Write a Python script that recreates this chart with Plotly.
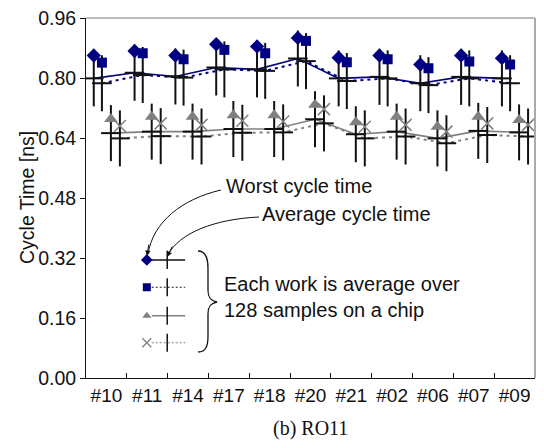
import plotly.graph_objects as go

chips = ["#10", "#11", "#14", "#17", "#18", "#20", "#21", "#02", "#06", "#07", "#09"]

# Worst cycle time [ns]
s1_worst = [0.860, 0.872, 0.860, 0.890, 0.884, 0.907, 0.854, 0.860, 0.836, 0.860, 0.853]
s2_worst = [0.841, 0.866, 0.850, 0.875, 0.866, 0.899, 0.842, 0.850, 0.826, 0.844, 0.836]
s3_worst = [0.691, 0.697, 0.697, 0.701, 0.701, 0.729, 0.682, 0.697, 0.670, 0.697, 0.688]
s4_worst = [0.672, 0.679, 0.675, 0.686, 0.684, 0.717, 0.670, 0.675, 0.657, 0.679, 0.675]

# Average cycle time [ns]
s1_avg = [0.799, 0.814, 0.804, 0.828, 0.823, 0.852, 0.799, 0.803, 0.786, 0.803, 0.799]
s2_avg = [0.786, 0.808, 0.801, 0.823, 0.819, 0.845, 0.792, 0.799, 0.781, 0.799, 0.786]
s3_avg = [0.653, 0.657, 0.657, 0.664, 0.664, 0.690, 0.650, 0.657, 0.639, 0.659, 0.655]
s4_avg = [0.639, 0.645, 0.644, 0.654, 0.655, 0.679, 0.639, 0.644, 0.626, 0.648, 0.644]

y_ticks = [0.00, 0.16, 0.32, 0.48, 0.64, 0.80, 0.96]

NAVY = "#000080"
GRAY = "#808080"
FONT = "Arial, Liberation Sans, sans-serif"

# page body margin of the browser (8px) is compensated
OFF = 8
W, H = 544 - 2 * OFF, 448 - 2 * OFF
# plot area in target-page pixels
L, R, T, B = 86, 535, 18, 378


def pp(px, py):
    return (px - L) / (R - L), (B - py) / (B - T)


series = [
    dict(worst=s1_worst, avg=s1_avg, off=-0.31, color=NAVY, dash="solid", sym="diamond", msize=11),
    dict(worst=s2_worst, avg=s2_avg, off=-0.11, color=NAVY, dash="3px,4px", sym="square", msize=10),
    dict(worst=s3_worst, avg=s3_avg, off=0.11, color=GRAY, dash="solid", sym="triangle-up", msize=12),
    dict(worst=s4_worst, avg=s4_avg, off=0.33, color=GRAY, dash="3px,4px", sym="x-thin", msize=12),
]

fig = go.Figure()
idx = list(range(len(chips)))

# lines of averages
for s in series:
    xs = [i + s["off"] for i in idx]
    fig.add_trace(go.Scatter(x=xs, y=s["avg"], mode="lines",
                             line=dict(color=s["color"], width=1.6 if s["dash"] == "solid" else 2, dash=s["dash"]),
                             showlegend=False, hoverinfo="skip"))
# average cross markers
for s in series:
    xs = [i + s["off"] for i in idx]
    fig.add_trace(go.Scatter(x=xs, y=s["avg"], mode="markers",
                             marker=dict(symbol="line-ns", size=40, line=dict(color="#111", width=2)),
                             showlegend=False, hoverinfo="skip"))
    fig.add_trace(go.Scatter(x=xs, y=s["avg"], mode="markers",
                             marker=dict(symbol="line-ew", size=14, line=dict(color="#111", width=2)),
                             showlegend=False, hoverinfo="skip"))
# worst markers
for s in series:
    xs = [i + s["off"] for i in idx]
    if s["sym"] == "x-thin":
        mk = dict(symbol="x-thin", size=s["msize"], line=dict(color=s["color"], width=1.5))
    else:
        mk = dict(symbol=s["sym"], size=s["msize"], color=s["color"], line=dict(width=0))
    fig.add_trace(go.Scatter(x=xs, y=s["worst"], mode="markers", marker=mk,
                             showlegend=False, hoverinfo="skip"))

# in-plot key
key_rows_y = [0.315, 0.242, 0.166, 0.094]
key_x0, key_xc, key_x1 = 0.99, 1.49, 1.93
key_line_colors = ["#111", "#222", GRAY, GRAY]
for s, ky, lc in zip(series, key_rows_y, key_line_colors):
    solid = s["dash"] == "solid"
    fig.add_trace(go.Scatter(x=[key_x0 + 0.12, key_x1], y=[ky, ky], mode="lines",
                             line=dict(color=lc, width=1.5 if solid else 1.2,
                                       dash="solid" if solid else "2px,2px"),
                             showlegend=False, hoverinfo="skip"))
    fig.add_trace(go.Scatter(x=[key_xc], y=[ky], mode="markers",
                             marker=dict(symbol="line-ns", size=13, line=dict(color="#111", width=1.5)),
                             showlegend=False, hoverinfo="skip"))
    if s["sym"] == "x-thin":
        mk = dict(symbol="x-thin", size=9, line=dict(color=s["color"], width=1.3))
    else:
        mk = dict(symbol=s["sym"], size=8 if s["sym"] != "diamond" else 9, color=s["color"], line=dict(width=0))
    fig.add_trace(go.Scatter(x=[key_x0], y=[ky], mode="markers", marker=mk,
                             showlegend=False, hoverinfo="skip"))

shapes = []
# top and right frame
shapes.append(dict(type="line", xref="paper", yref="paper", x0=0, x1=1, y0=1, y1=1,
                   line=dict(color="#777", width=1)))
shapes.append(dict(type="line", xref="paper", yref="paper", x0=1, x1=1, y0=0, y1=1,
                   line=dict(color="#aaa", width=2)))


def path(cmds):
    out = []
    for c, pts in cmds:
        coords = []
        for (px, py) in pts:
            a, b = pp(px, py)
            coords.append(f"{a:.4f},{b:.4f}")
        out.append(c + " " + " ".join(coords))
    return " ".join(out)


# curved arrows
shapes.append(dict(type="path", xref="paper", yref="paper",
                   path=path([("M", [(221, 190)]), ("C", [(182, 199), (153, 222), (148, 254)])]),
                   line=dict(color="#111", width=1)))
shapes.append(dict(type="path", xref="paper", yref="paper",
                   path=path([("M", [(259, 217)]), ("C", [(215, 219), (179, 233), (168, 255)])]),
                   line=dict(color="#111", width=1)))
# brace
shapes.append(dict(type="path", xref="paper", yref="paper",
                   path=path([("M", [(198, 251)]),
                              ("C", [(206, 251), (208, 258), (208, 268)]),
                              ("L", [(208, 290)]),
                              ("C", [(208, 298), (211, 301), (217, 302)]),
                              ("C", [(211, 303), (208, 306), (208, 314)]),
                              ("L", [(208, 336)]),
                              ("C", [(208, 346), (206, 352), (198, 352)])]),
                   line=dict(color="#111", width=1.3)))

annotations = []


def text(px, py, s, size=20, family=FONT, xanchor="left", angle=0):
    a, b = pp(px, py)
    annotations.append(dict(xref="paper", yref="paper", x=a, y=b, text=s, showarrow=False,
                            xanchor=xanchor, yanchor="middle", textangle=angle,
                            font=dict(family=family, size=size, color="#111")))


text(224, 186, "Worst cycle time")
text(260, 214, "Average cycle time")
text(222, 284, "Each work is average over")
text(222, 310, "128 samples on a chip")
text(310, 428, "(b) RO11", size=20, family="Times New Roman, Liberation Serif, serif", xanchor="center")
text(27, 198, "Cycle Time [ns]", size=19.5, xanchor="center", angle=-90)

# arrow heads
for (tx, ty, ax, ay) in [(147, 256, 2, -13), (167, 257, 6, -12)]:
    a, b = pp(tx, ty)
    annotations.append(dict(xref="paper", yref="paper", x=a, y=b, ax=ax, ay=ay, text="",
                            showarrow=True, arrowhead=2, arrowsize=1.1, arrowwidth=1,
                            arrowcolor="#111"))

fig.update_layout(
    width=W, height=H,
    margin=dict(l=L - OFF, r=W - (R - OFF), t=T - OFF, b=H - (B - OFF), pad=0, autoexpand=False),
    paper_bgcolor="white", plot_bgcolor="white",
    font=dict(family=FONT, size=19, color="#111"),
    shapes=shapes, annotations=annotations,
    showlegend=False,
    xaxis=dict(range=[-0.5, len(chips) - 0.5], tickmode="array", tickvals=idx, ticktext=chips,
               ticks="", showgrid=False, zeroline=False, showline=True, linecolor="#111", linewidth=1,
               ticklabelstandoff=0, tickfont=dict(size=19), automargin=False, ticklabeloverflow="allow",
               minor=dict(tickmode="array", tickvals=[i + 0.5 for i in idx[:-1]], ticks="inside",
                          ticklen=5, tickcolor="#111", tickwidth=1, showgrid=False)),
    yaxis=dict(range=[0, 0.96], tickmode="array", tickvals=y_ticks, tickformat=".2f",
               ticks="outside", ticklen=5, tickcolor="#111", showgrid=False, zeroline=False,
               showline=True, linecolor="#111", linewidth=1, tickfont=dict(size=19.5),
               automargin=False, ticklabeloverflow="allow"),
)

fig.write_html("out.html")
